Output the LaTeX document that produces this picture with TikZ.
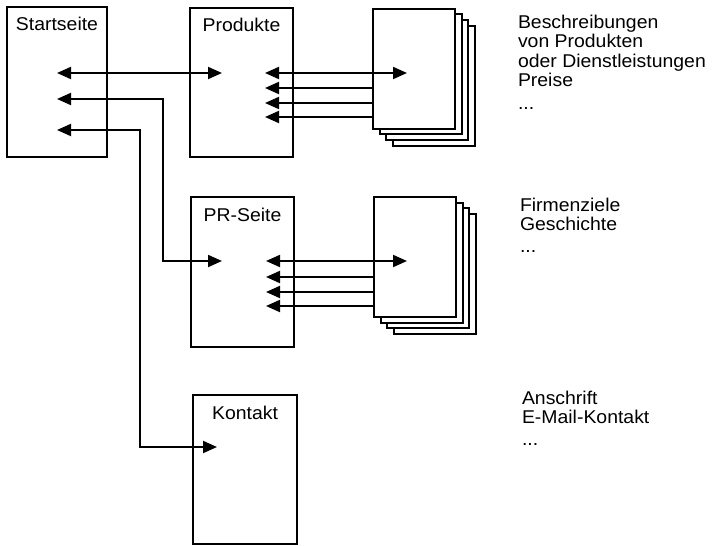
\documentclass[tikz,border=0pt]{standalone}
\usepackage{fontspec}
\setmainfont{Liberation Sans}[FakeStretch=1.05]
\usetikzlibrary{arrows.meta,positioning}
\begin{document}
\begin{tikzpicture}[x=1pt,y=-1pt,line width=2pt,font=\fontsize{18.5}{19.5}\selectfont,
 seite/.style={rectangle,draw,minimum width=103pt,minimum height=150pt,inner sep=0},
 blatt/.style={rectangle,draw,fill=white,minimum width=82pt,minimum height=120pt,inner sep=0},
 titel/.style={inner sep=0},
 info/.style={inner sep=0,anchor=north west,align=left},
 link/.style={-{Triangle[length=14pt,width=12pt]}},
 dlink/.style={{Triangle[length=14pt,width=12pt]}-{Triangle[length=14pt,width=12pt]}}]
\useasboundingbox(0,0)rectangle(712,546);
% Seiten
\node[seite,minimum width=100pt](start)at(57,82){};
\node[seite,minimum height=149pt](prod)at(241.5,82.5){};
\node[seite](pr)at(242.5,272){};
\node[seite,minimum width=104pt,minimum height=149pt](kon)at(245,469.5){};
\node[titel,below=10.5pt of start.north](startT){Startseite};
\node[titel,below=10.5pt of prod.north](prodT){Produkte};
\node[titel,below=11pt of pr.north](prT){PR-Seite};
\node[titel,below=11pt of kon.north](konT){Kontakt};
% Unterseiten
\foreach \k in {3,2,1}\node[blatt](prodD\k)at(414+6.7*\k,68.5+5.7*\k){};
\node[blatt](prodD)at(414,68.5){};
\foreach \k in {3,2,1}\node[blatt](prD\k)at(415+6.7*\k,257+5.7*\k){};
\node[blatt](prD)at(415,257){};
% Ankerpunkte
\coordinate(s1)at(57,73);\coordinate(s2)at(57,99);\coordinate(s3)at(57,130);
\coordinate(b2)at(163,0);\coordinate(b3)at(140,0);
\coordinate(p0)at(222,73);\coordinate(d0)at(407,73);
\foreach \i/\y in {1/73,2/88,3/103,4/117}\coordinate(p\i)at(265,\y);
\coordinate(r0)at(222,261);\coordinate(e0)at(407,261);
\foreach \i/\y in {1/261,2/277,3/292,4/306}\coordinate(r\i)at(266,\y);
\coordinate(k0)at(217,447);
% Verweise
\draw[dlink](s1)--(p0);
\draw[dlink](s2)--(s2-|b2)|-(r0);
\draw[dlink](s3)--(s3-|b3)|-(k0);
\draw[dlink](p1)--(d0);
\foreach \i in {2,3,4}\draw[link](prodD.west|-p\i)--(p\i);
\draw[dlink](r1)--(e0);
\foreach \i in {2,3,4}\draw[link](prD.west|-r\i)--(r\i);
% Inhalte
\node[info](prodI)at(517,14){Beschreibungen\\von Produkten\\oder Dienstleistungen\\Preise\\[3.5pt]...};
\node[info](prI)at(519,197){Firmenziele\\Geschichte\\[2pt]...};
\node[info](konI)at(521,390){Anschrift\\E-Mail-Kontakt\\[2.5pt]...};
\end{tikzpicture}
\end{document}
